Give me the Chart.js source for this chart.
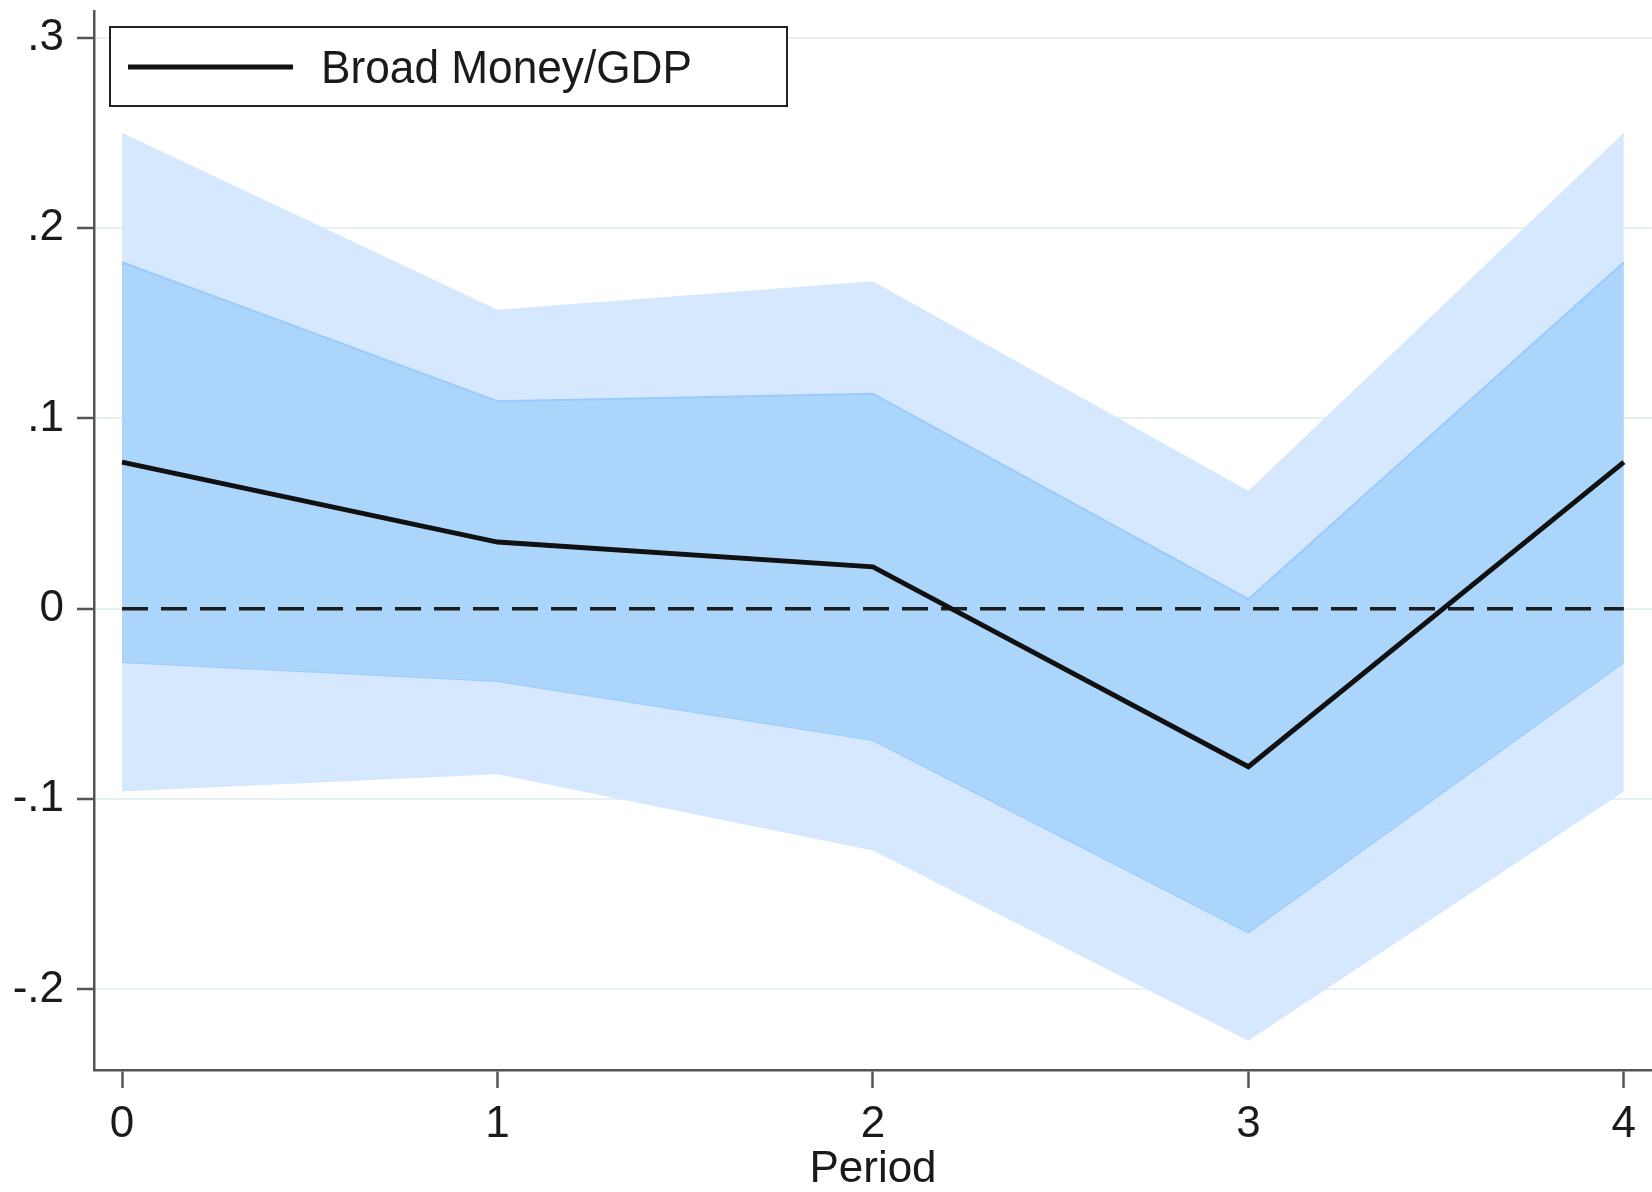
<!DOCTYPE html>
<html>
<head>
<meta charset="utf-8">
<title>Broad Money/GDP</title>
<script src="https://cdn.jsdelivr.net/npm/chart.js@4.4.1/dist/chart.umd.min.js"></script>
<style>
  html, body { margin: 0; padding: 0; background: #fff; }
  #wrap { width: 1652px; height: 1192px; }
</style>
</head>
<body>
<div id="wrap"><canvas id="irf" width="1652" height="1192"></canvas></div>
<script>
// values
const periods = [0, 1, 2, 3, 4];
const response = [0.077, 0.035, 0.022, -0.083, 0.077];
const innerUpper = [0.182, 0.109, 0.113, 0.005, 0.182];
const innerLower = [-0.028, -0.038, -0.069, -0.170, -0.028];
const outerUpper = [0.250, 0.157, 0.172, 0.062, 0.250];
const outerLower = [-0.096, -0.087, -0.127, -0.227, -0.096];
const yTicks = [-0.2, -0.1, 0, 0.1, 0.2, 0.3];
const yTickLabels = ["-.2", "-.1", "0", ".1", ".2", ".3"];
const xTicks = [0, 1, 2, 3, 4];
const xTickLabels = ["0", "1", "2", "3", "4"];
const seriesName = "Broad Money/GDP";
const xTitle = "Period";

const FONT = '"Liberation Sans", Arial, sans-serif';
const toXY = (ys) => periods.map((p, i) => ({ x: p, y: ys[i] }));

// legend box drawn by hand (Stata style, inside the plot)
const legendBox = {
  id: "legendBox",
  afterDraw(chart) {
    const ctx = chart.ctx;
    ctx.save();
    ctx.fillStyle = "#fff";
    ctx.fillRect(110, 27, 677, 79);
    ctx.strokeStyle = "#222";
    ctx.lineWidth = 2;
    ctx.strokeRect(110, 27, 677, 79);
    ctx.beginPath();
    ctx.moveTo(128, 67);
    ctx.lineTo(293, 67);
    ctx.lineWidth = 5;
    ctx.strokeStyle = "#111";
    ctx.stroke();
    ctx.font = "47px " + FONT;
    ctx.fillStyle = "#1a1a1a";
    ctx.textBaseline = "alphabetic";
    ctx.fillText(chart.data.datasets[0].label, 321, 83, 371);
    ctx.restore();
  },
};

const ctx = document.getElementById("irf").getContext("2d");

new Chart(ctx, {
  type: "line",
  data: {
    datasets: [
      {
        label: seriesName,
        data: toXY(response),
        borderColor: "#111",
        borderWidth: 5,
        pointRadius: 0,
        fill: false,
        order: 0,
      },
      {
        label: "zero",
        data: [
          { x: periods[0], y: 0 },
          { x: periods[periods.length - 1], y: 0 },
        ],
        borderColor: "#1c1c1c",
        borderWidth: 3.5,
        borderDash: [26, 13],
        pointRadius: 0,
        fill: false,
        order: 1,
      },
      {
        label: "inner upper",
        data: toXY(innerUpper),
        borderColor: "#9ccafb",
        borderWidth: 2,
        backgroundColor: "#acd5fc",
        pointRadius: 0,
        fill: "+1",
        order: 2,
      },
      {
        label: "inner lower",
        data: toXY(innerLower),
        borderColor: "#9ccafb",
        borderWidth: 2,
        pointRadius: 0,
        fill: false,
        order: 3,
      },
      {
        label: "outer upper",
        data: toXY(outerUpper),
        borderWidth: 0,
        borderColor: "rgba(0,0,0,0)",
        backgroundColor: "#d5e8fd",
        pointRadius: 0,
        fill: "+1",
        order: 4,
      },
      {
        label: "outer lower",
        data: toXY(outerLower),
        borderWidth: 0,
        borderColor: "rgba(0,0,0,0)",
        pointRadius: 0,
        fill: false,
        order: 5,
      },
    ],
  },
  options: {
    responsive: false,
    animation: false,
    layout: { padding: { top: 11, right: 0, bottom: 0, left: 0 } },
    elements: { line: { tension: 0 } },
    plugins: {
      legend: { display: false },
      tooltip: { enabled: false },
    },
    scales: {
      x: {
        type: "linear",
        min: -0.0746,
        max: 4.075,
        afterBuildTicks: (scale) => {
          scale.ticks = xTicks.map((v) => ({ value: v }));
        },
        afterFit: (scale) => {
          scale.height = 122;
          scale.paddingLeft = 0;
          scale.paddingRight = 0;
        },
        ticks: {
          color: "#1a1a1a",
          font: { family: FONT, size: 44 },
          padding: 10,
          maxRotation: 0,
          callback: (v) => xTickLabels[xTicks.indexOf(v)],
        },
        grid: {
          drawOnChartArea: false,
          tickLength: 18,
          tickWidth: 2.5,
          tickColor: "#555",
        },
        border: { color: "#555", width: 2.5 },
        title: {
          display: true,
          text: xTitle,
          color: "#1a1a1a",
          font: { family: FONT, size: 44, lineHeight: 1.0 },
          padding: { top: 0, bottom: 0 },
        },
      },
      y: {
        type: "linear",
        min: -0.2423,
        max: 0.314,
        afterBuildTicks: (scale) => {
          scale.ticks = yTicks.map((v) => ({ value: v }));
        },
        afterFit: (scale) => {
          scale.width = 94;
          scale.paddingTop = 0;
          scale.paddingBottom = 0;
        },
        ticks: {
          color: "#1a1a1a",
          font: { family: FONT, size: 44 },
          padding: 13,
          callback: (v) => yTickLabels[yTicks.findIndex((t) => Math.abs(t - v) < 1e-9)],
        },
        grid: {
          color: "#e7f0f2",
          lineWidth: 2,
          tickLength: 17,
          tickWidth: 2.5,
          tickColor: "#555",
        },
        border: { color: "#555", width: 2.5 },
      },
    },
  },
  plugins: [legendBox],
});
</script>
</body>
</html>
